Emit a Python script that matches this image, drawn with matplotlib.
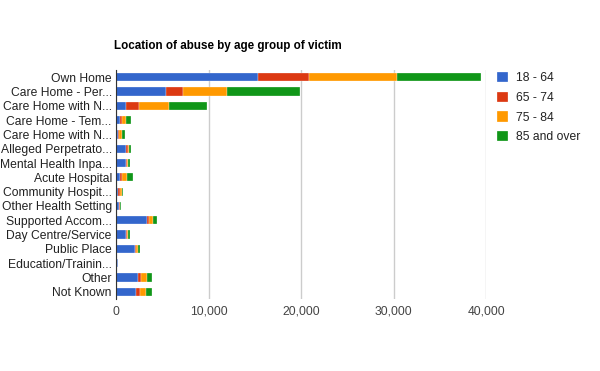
import numpy as np
import matplotlib.pyplot as plt

plt.rcParams['font.family'] = ['Liberation Sans', 'DejaVu Sans']

# Locations (top to bottom) and counts per age group
locations = ['Own Home', 'Care Home - Per...', 'Care Home with N...', 'Care Home - Tem...',
             'Care Home with N...', 'Alleged Perpetrato...', 'Mental Health Inpa...',
             'Acute Hospital', 'Community Hospit...', 'Other Health Setting',
             'Supported Accom...', 'Day Centre/Service', 'Public Place',
             'Education/Trainin...', 'Other', 'Not Known']
age_groups = ['18 - 64', '65 - 74', '75 - 84', '85 and over']

age_18_64 = [15400, 5400, 1100, 450, 200, 1100, 1100, 450, 250, 300, 3300, 1100, 2100, 250, 2400, 2200]
age_65_74 = [5500, 1800, 1400, 150, 150, 150, 100, 200, 150, 80, 300, 70, 100, 10, 350, 350]
age_75_84 = [9500, 4800, 3200, 450, 300, 200, 150, 550, 200, 70, 350, 150, 200, 5, 600, 650]
age_85_over = [9100, 7900, 4150, 550, 350, 150, 150, 600, 200, 70, 450, 150, 180, 5, 550, 700]

colors = ['#3366cc', '#dc3912', '#ff9900', '#109618']
series = [age_18_64, age_65_74, age_75_84, age_85_over]

fig = plt.figure(figsize=(6, 3.71), dpi=100)
ax = fig.add_axes([116 / 600, 1 - 299 / 371, (486 - 116) / 600, (299 - 70) / 371])

y = np.arange(len(locations))
left = np.zeros(len(locations))
for vals, col, name in zip(series, colors, age_groups):
    ax.barh(y, vals, left=left, height=0.58, color=col, edgecolor='white',
            linewidth=0.2, label=name, zorder=3)
    left += np.array(vals)

ax.set_ylim(len(locations) - 0.5, -0.5)
ax.set_xlim(0, 40000)
ax.set_yticks(y)
ax.set_yticklabels(locations, fontsize=8.7, color='#222222')
ax.set_xticks([0, 10000, 20000, 30000, 40000])
ax.set_xticklabels(['0', '10,000', '20,000', '30,000', '40,000'], fontsize=8.7, color='#444444')
ax.tick_params(length=0, pad=3)
ax.tick_params(axis='x', pad=5)
ax.grid(axis='x', color='#cccccc', linewidth=1, zorder=0)
for s in ['top', 'right', 'bottom']:
    ax.spines[s].set_visible(False)
ax.spines['left'].set_color('#333333')
ax.spines['left'].set_zorder(4)

fig.text(114 / 600, 1 - 46 / 371, 'Location of abuse by age group of victim',
         fontsize=8.4, fontweight='bold', color='#000000', va='center')

fig.legend(loc='upper left', bbox_to_anchor=(497 / 600, 1 - 72 / 371), frameon=False,
           fontsize=8.7, handlelength=0.95, handleheight=0.95, handletextpad=0.6,
           labelspacing=0.6, borderaxespad=0, borderpad=0)
for t in fig.legends[0].get_texts():
    t.set_color('#222222')

fig.savefig('out.png', dpi=100)
